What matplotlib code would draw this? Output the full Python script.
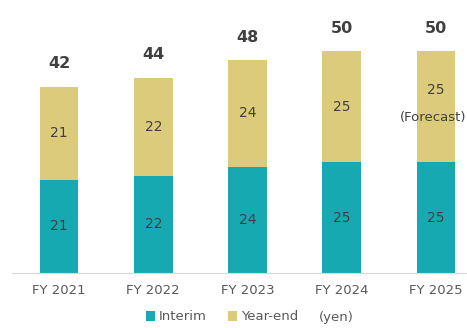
import numpy as np
import matplotlib.pyplot as plt

years = ['FY 2021', 'FY 2022', 'FY 2023', 'FY 2024', 'FY 2025']
interim = [21, 22, 24, 25, 25]
year_end = [21, 22, 24, 25, 25]
totals = [42, 44, 48, 50, 50]

teal = '#17A9B1'
gold = '#DCCB7A'
txt = '#404040'

fig = plt.figure(figsize=(4.67, 3.28), dpi=100)
ax = fig.add_axes([12 / 467, 55 / 328, 455 / 467, 273 / 328])

x = np.arange(len(years))
w = 0.41
ax.bar(x, interim, w, color=teal, label='Interim')
ax.bar(x, year_end, w, bottom=interim, color=gold, label='Year-end')

for i in range(len(years)):
    ax.text(x[i], interim[i] / 2, str(interim[i]), ha='center', va='center',
            fontsize=10, color=txt)
    if i == len(years) - 1:
        ax.text(x[i], interim[i] + year_end[i] / 2 + 3.9, str(year_end[i]),
                ha='center', va='center', fontsize=10, color=txt)
        ax.text(4.32, interim[i] + year_end[i] / 2 - 2.4, '(Forecast)',
                ha='right', va='center', fontsize=9.5, color=txt)
    else:
        ax.text(x[i], interim[i] + year_end[i] / 2, str(year_end[i]),
                ha='center', va='center', fontsize=10, color=txt)
    ax.text(x[i], totals[i] + 5.2, str(totals[i]), ha='center', va='center',
            fontsize=11.5, fontweight='bold', color=txt)

ax.set_xlim(-0.5, 4.33)
ax.set_ylim(0, 61.6)
ax.set_xticks(x)
ax.set_xticklabels(years, fontsize=9.5, color='#595959')
ax.tick_params(axis='x', length=0, pad=8)
ax.set_yticks([])
for s in ['top', 'right', 'left']:
    ax.spines[s].set_visible(False)
ax.spines['bottom'].set_color('#D9D9D9')

h, l = ax.get_legend_handles_labels()
fig.legend(h, l, loc='center', bbox_to_anchor=(222 / 467, 11 / 328), ncol=2,
           frameon=False, fontsize=9.5, handlelength=0.7, handleheight=0.7,
           handletextpad=0.3, columnspacing=1.6, labelcolor='#595959')
fig.text(336 / 467, 11 / 328, '(yen)', ha='center', va='center',
         fontsize=9.5, color='#595959')

fig.savefig('out.png', dpi=100)
